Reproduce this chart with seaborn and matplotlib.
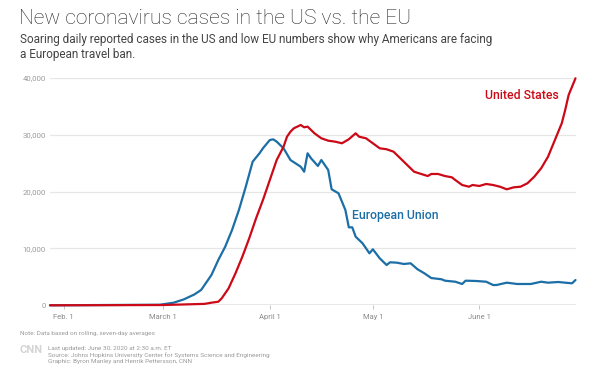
import matplotlib
matplotlib.use("Agg")
import matplotlib.pyplot as plt
import seaborn as sns
import pandas as pd

# ---- data (7-day rolling averages) ----
eu_dates = ["2020-01-28", "2020-02-29", "2020-03-04", "2020-03-07", "2020-03-10",
            "2020-03-12", "2020-03-13", "2020-03-15", "2020-03-17", "2020-03-19",
            "2020-03-21", "2020-03-23", "2020-03-25", "2020-03-27", "2020-03-29",
            "2020-03-30", "2020-04-01", "2020-04-02", "2020-04-03", "2020-04-05",
            "2020-04-07", "2020-04-10", "2020-04-11", "2020-04-12", "2020-04-13",
            "2020-04-15", "2020-04-16", "2020-04-18", "2020-04-19", "2020-04-21",
            "2020-04-23", "2020-04-24", "2020-04-25", "2020-04-26", "2020-04-28",
            "2020-04-30", "2020-05-01", "2020-05-03", "2020-05-05", "2020-05-06",
            "2020-05-08", "2020-05-10", "2020-05-12", "2020-05-14", "2020-05-16",
            "2020-05-18", "2020-05-21", "2020-05-22", "2020-05-25", "2020-05-27",
            "2020-05-28", "2020-05-31", "2020-06-03", "2020-06-05", "2020-06-06",
            "2020-06-09", "2020-06-12", "2020-06-16", "2020-06-19", "2020-06-21",
            "2020-06-24", "2020-06-26", "2020-06-28", "2020-06-29"]
eu_cases = [0, 100, 460, 1050, 1900,
            2700, 3570, 5330, 7970, 10300,
            13250, 16770, 20870, 25270, 26750,
            27630, 29090, 29200, 28800, 27630,
            25570, 24390, 23510, 26750, 25870,
            24520, 25570, 23810, 20410, 19710,
            16770, 13720, 13720, 12070, 10910,
            9150, 9860, 8270, 7090, 7570,
            7500, 7270, 7390, 6340, 5630,
            4800, 4580, 4330, 4150, 3750,
            4330, 4280, 4150, 3570, 3570,
            3980, 3750, 3750, 4150, 3980,
            4100, 3980, 3870, 4450]

us_dates = ["2020-01-28", "2020-03-01", "2020-03-13", "2020-03-15", "2020-03-17",
            "2020-03-18", "2020-03-20", "2020-03-22", "2020-03-24", "2020-03-26",
            "2020-03-28", "2020-03-30", "2020-04-01", "2020-04-03", "2020-04-05",
            "2020-04-06", "2020-04-07", "2020-04-08", "2020-04-10", "2020-04-11",
            "2020-04-12", "2020-04-14", "2020-04-16", "2020-04-18", "2020-04-20",
            "2020-04-22", "2020-04-24", "2020-04-26", "2020-04-27", "2020-04-29",
            "2020-05-01", "2020-05-03", "2020-05-05", "2020-05-07", "2020-05-09",
            "2020-05-11", "2020-05-13", "2020-05-16", "2020-05-17", "2020-05-18",
            "2020-05-20", "2020-05-22", "2020-05-24", "2020-05-25", "2020-05-27",
            "2020-05-29", "2020-05-30", "2020-06-01", "2020-06-03", "2020-06-05",
            "2020-06-07", "2020-06-09", "2020-06-11", "2020-06-13", "2020-06-15",
            "2020-06-17", "2020-06-19", "2020-06-21", "2020-06-23", "2020-06-25",
            "2020-06-26", "2020-06-27", "2020-06-29"]
us_cases = [0, 50, 250, 460, 630,
            1230, 2990, 5630, 8550, 11790,
            15310, 18530, 22050, 25570, 27910,
            29670, 30550, 31150, 31730, 31320,
            31440, 30270, 29390, 28970, 28800,
            28510, 29220, 30270, 29670, 29390,
            28510, 27630, 27460, 27040, 25870,
            24690, 23510, 22930, 22750, 23110,
            23110, 22750, 22520, 22050, 21170,
            20870, 21170, 21000, 21350, 21170,
            20870, 20410, 20760, 20870, 21470,
            22630, 24110, 26150, 29090, 32030,
            34370, 37010, 39950]

tick_dates = ["2020-02-01", "2020-03-01", "2020-04-01", "2020-05-01", "2020-06-01"]
tick_labels = ["Feb. 1", "March 1", "April 1", "May 1", "June 1"]
y_ticks = [0, 10000, 20000, 30000, 40000]
y_labels = ["0", "10,000", "20,000", "30,000", "40,000"]

title = "New coronavirus cases in the US vs. the EU"
subtitle = ("Soaring daily reported cases in the US and low EU numbers show why Americans are facing\n"
            "a European travel ban.")
note = "Note: Data based on rolling, seven-day averages"
footer = ("Last updated: June 30, 2020 at 2:30 a.m. ET\n"
          "Source: Johns Hopkins University Center for Systems Science and Engineering\n"
          "Graphic: Byron Manley and Henrik Pettersson, CNN")

RED = "#cc0a17"
BLUE = "#1c6ea6"

sns.set_theme(style="white")
plt.rcParams["font.family"] = ["Roboto", "DejaVu Sans"]

eu = pd.DataFrame({"date": pd.to_datetime(eu_dates), "cases": eu_cases})
us = pd.DataFrame({"date": pd.to_datetime(us_dates), "cases": us_cases})

fig = plt.figure(figsize=(6.0, 3.74), dpi=100)
fig.patch.set_facecolor("white")
ax = fig.add_axes([50 / 600, 1 - 305.3 / 374, 525.5 / 600, (305.3 - 78) / 374])

for yv in y_ticks[1:]:
    ax.axhline(yv, color="#e6e6e6", lw=0.9, zorder=0)
ax.axhline(0, color="#8a8a8a", lw=1.0, zorder=1)

sns.lineplot(data=eu, x="date", y="cases", ax=ax, color=BLUE, lw=1.6, clip_on=False, zorder=3)
sns.lineplot(data=us, x="date", y="cases", ax=ax, color=RED, lw=1.6, clip_on=False, zorder=4)

ax.set_xlim(pd.Timestamp("2020-01-28"), pd.Timestamp("2020-06-29"))
ax.set_ylim(0, 40000)
ax.set_xlabel("")
ax.set_ylabel("")
for s in ax.spines.values():
    s.set_visible(False)
ax.grid(False)

ax.set_yticks(y_ticks)
ax.set_yticklabels(y_labels, color="#9a9a9a", fontsize=5.6)
ax.tick_params(axis="y", length=0, pad=3)
ax.set_xticks(pd.to_datetime(tick_dates))
ax.set_xticklabels(tick_labels, color="#8a8a8a", fontsize=5.5)
ax.tick_params(axis="x", length=3, width=0.6, color="#bbbbbb", pad=3, bottom=True, direction="out")

ax.text(pd.Timestamp("2020-06-24"), 36900, "United States", color=RED, fontsize=8.8,
        fontweight="medium", ha="right", va="center")
ax.text(pd.Timestamp("2020-04-25"), 15800, "European Union", color=BLUE, fontsize=8.8,
        fontweight="medium", ha="left", va="center")

fig.text(19 / 600, 1 - 19 / 374, title, fontsize=15.1, color="#262626",
         fontweight="light", ha="left", va="center")
fig.text(20 / 600, 1 - 47 / 374, subtitle, fontsize=8.5, color="#444444",
         ha="left", va="center", linespacing=1.2)
fig.text(20 / 600, 1 - 333.5 / 374, note, fontsize=4.6, color="#9a9a9a", ha="left", va="center")
fig.text(20 / 600, 1 - 350 / 374, "CNN", fontsize=8, color="#d4d4d4", fontweight="bold",
         ha="left", va="center")
fig.text(47.5 / 600, 1 - 355 / 374, footer, fontsize=4.6, color="#9a9a9a", ha="left",
         va="center", linespacing=1.25)

fig.savefig("out.png", dpi=100, facecolor="white")
